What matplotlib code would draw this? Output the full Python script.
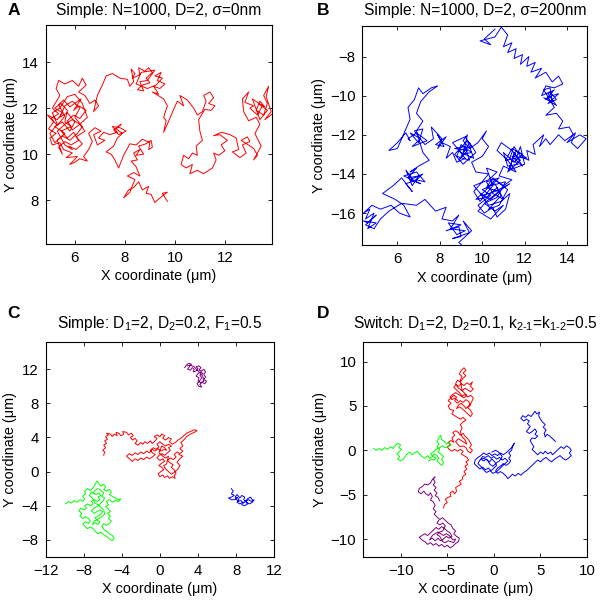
import numpy as np
import matplotlib.pyplot as plt

plt.rcParams["font.family"] = ["Liberation Sans", "DejaVu Sans"]
plt.rcParams["mathtext.default"] = "regular"

# ---- panel A: simple walk, no noise (x, y in um) ----
traj_a = [
    (9.70, 7.95), (9.50, 8.30), (9.70, 8.35), (9.35, 8.05), (9.20, 7.90), (9.05, 8.25), (8.85, 8.30),
    (8.95, 8.60), (8.70, 8.45), (8.55, 8.80), (8.35, 8.55), (8.15, 8.45), (7.95, 8.10), (8.20, 8.35),
    (8.40, 8.90), (8.10, 9.05), (8.35, 9.20), (8.60, 9.05), (8.45, 9.45), (8.25, 9.70), (8.50, 9.75),
    (8.35, 10.05), (8.60, 10.20), (8.45, 9.95), (8.75, 10.00), (8.55, 10.35), (8.85, 10.45), (9.05, 10.60),
    (9.10, 10.30), (8.95, 10.20), (9.00, 10.50), (8.70, 10.65), (8.45, 10.40), (8.20, 10.45), (7.95, 9.95),
    (7.75, 9.40), (7.60, 9.75), (7.45, 10.00), (7.25, 10.10), (7.55, 10.35), (7.70, 10.70), (7.90, 10.90),
    (7.65, 11.10), (7.85, 11.30), (7.55, 11.05), (7.75, 10.85), (8.05, 11.00), (7.80, 11.15), (7.50, 11.20),
    (7.70, 10.95), (7.40, 10.85), (7.15, 10.95), (6.95, 10.70), (7.20, 10.60), (6.90, 10.40), (6.75, 10.85),
    (7.05, 11.00), (6.80, 11.15), (6.55, 10.90), (6.70, 10.55), (6.55, 10.20), (6.35, 9.90), (6.50, 9.70),
    (6.20, 9.80), (6.00, 9.65), (5.80, 9.55), (6.10, 9.90), (5.65, 9.85), (5.90, 10.05), (5.55, 10.20),
    (5.40, 10.50), (5.10, 10.40), (5.00, 10.70), (5.25, 10.90), (4.95, 11.10), (5.15, 11.40), (4.90, 11.70),
    (5.30, 11.50), (5.50, 11.80), (5.20, 12.00), (5.45, 12.20), (5.70, 11.90), (5.60, 11.40), (5.85, 11.20),
    (5.45, 11.00), (5.70, 10.70), (5.95, 10.95), (6.15, 10.60), (5.85, 10.40), (5.60, 10.55), (5.35, 10.30),
    (5.50, 10.00), (5.30, 10.60), (5.60, 10.90), (5.20, 11.20), (5.50, 11.40), (5.80, 11.00), (6.00, 11.40),
    (5.70, 11.80), (5.40, 11.60), (5.60, 12.10), (5.90, 12.30), (6.20, 12.00), (6.00, 11.60), (6.30, 11.20),
    (6.10, 10.90), (5.80, 10.60), (5.50, 10.80), (5.20, 10.50), (5.00, 10.90), (5.30, 11.30), (5.10, 11.80),
    (5.40, 12.00), (5.70, 12.50), (6.00, 12.60), (6.30, 12.20), (6.50, 11.60), (6.20, 11.30), (5.90, 11.50),
    (5.60, 11.30), (5.30, 11.00), (5.60, 10.40), (5.90, 10.20),
    (5.75, 10.35), (6.05, 10.20), (6.30, 10.45), (6.05, 10.75), (6.40, 11.00), (6.20, 11.30),
    (5.90, 11.05), (5.70, 11.45), (5.95, 11.70), (6.20, 11.55), (6.45, 11.90), (6.15, 12.10), (5.95, 11.90),
    (6.25, 12.40), (6.05, 12.25), (5.80, 12.05), (5.55, 12.35), (5.35, 12.15), (5.60, 11.65), (5.30, 11.25),
    (5.05, 11.55), (5.35, 11.75), (5.10, 12.00), (5.40, 12.55), (5.25, 12.85), (5.35, 13.20), (5.60, 13.05),
    (5.90, 13.20), (6.15, 12.95), (6.30, 13.30), (6.45, 13.00), (6.15, 12.70), (6.40, 12.55), (6.60, 12.20),
    (6.80, 12.35), (6.95, 12.10), (6.75, 11.85), (6.90, 12.55), (7.10, 13.00), (7.25, 13.40), (7.50, 13.50),
    (7.80, 13.30), (8.10, 13.25), (8.20, 12.95), (8.35, 13.15), (8.25, 13.70), (8.40, 13.50), (8.30, 13.30),
    (8.60, 13.45), (8.55, 13.75), (8.80, 13.60), (8.95, 13.75), (9.10, 13.55), (8.85, 13.30), (9.00, 13.10),
    (8.70, 13.00), (8.50, 12.80), (8.75, 12.75), (8.60, 13.15), (8.90, 13.20), (9.20, 13.65), (8.65, 13.55),
    (8.45, 13.05), (8.90, 12.85), (9.25, 13.00), (9.50, 13.30), (9.20, 13.40), (9.45, 13.55), (9.30, 13.20),
    (9.60, 13.05), (9.40, 12.85), (9.15, 12.95), (9.35, 12.60), (9.10, 12.70), (9.55, 12.40), (9.70, 12.10),
    (9.55, 11.60), (9.65, 11.45), (9.55, 10.95), (9.70, 11.30), (9.95, 11.95), (10.10, 12.30), (10.35, 12.10),
    (10.20, 12.55), (10.50, 12.35), (10.75, 12.00), (10.90, 11.70), (11.10, 11.85), (11.25, 12.30),
    (11.15, 12.55), (11.40, 12.70), (11.55, 12.45), (11.35, 12.20), (11.60, 12.10), (11.45, 11.90),
    (11.20, 11.95), (10.95, 11.50), (11.00, 11.00), (11.10, 10.60), (10.85, 10.35), (10.90, 9.95),
    (10.70, 10.05), (10.55, 9.80), (10.35, 9.95), (10.25, 9.55), (10.45, 9.40), (10.70, 9.55), (10.60, 9.15),
    (10.90, 9.30), (11.15, 9.15), (11.50, 9.40), (11.65, 9.75), (11.55, 10.05), (11.75, 9.95), (12.00, 10.15),
    (11.85, 10.40), (12.10, 10.60), (11.80, 10.85), (11.55, 10.80), (11.85, 10.95), (12.20, 10.85),
    (12.45, 10.70), (12.55, 10.20), (12.30, 10.10), (12.60, 9.85), (12.85, 10.05), (12.70, 10.40),
    (13.00, 10.55), (12.90, 10.75), (12.65, 10.60), (13.15, 10.25), (13.30, 9.95), (13.15, 9.75),
    (13.45, 10.35), (13.20, 10.90), (13.40, 11.30), (13.25, 11.60), (12.95, 11.45), (12.75, 11.85),
    (12.70, 12.40), (12.95, 12.70), (12.80, 12.25), (13.15, 12.10), (13.00, 12.00), (13.30, 11.70),
    (13.50, 12.10), (13.10, 12.40), (13.40, 11.50), (13.70, 11.90), (13.35, 12.20), (13.60, 12.05),
    (13.40, 12.30), (13.25, 11.90), (13.55, 11.70), (13.70, 12.20), (13.55, 12.55), (13.75, 12.95),
    (13.65, 12.50), (13.85, 11.85), (13.60, 11.50), (13.90, 11.75),
]

# ---- panel B: simple walk with 200 nm localisation noise ----
traj_b = [
    (10.6, -6.6), (10.1, -7.1), (10.4, -7.4), (9.9, -7.2), (10.6, -7.0), (10.9, -6.5), (11.2, -6.9),
    (11.0, -7.5), (11.4, -7.3), (11.2, -7.8), (11.6, -7.6), (11.5, -8.1), (11.9, -7.9), (11.8, -8.4),
    (12.2, -8.0), (12.1, -8.5), (12.5, -8.3), (12.3, -8.8), (12.8, -8.6), (12.5, -9.1), (13.0, -8.8),
    (13.3, -9.3), (13.6, -9.0), (13.8, -9.4), (13.4, -9.6), (13.0, -9.5), (12.8, -10.0), (13.2, -9.8),
    (13.5, -10.2), (13.1, -10.4), (13.6, -9.9), (13.3, -10.0), (13.0, -10.2), (13.4, -9.7), (13.1, -9.9),
    (13.5, -10.5), (12.9, -10.1), (13.3, -10.3), (13.2, -9.6), (12.9, -9.7), (13.4, -10.6), (13.0, -11.0),
    (13.5, -10.9), (13.8, -11.3), (13.6, -11.7), (14.1, -11.6), (14.3, -12.0), (14.0, -12.4), (14.6, -12.0),
    (14.9, -12.2), (14.5, -12.7), (14.2, -12.4), (14.4, -11.9), (13.9, -12.3), (13.6, -12.0), (13.2, -12.5),
    (13.0, -12.2), (12.7, -12.6), (12.9, -12.0), (12.4, -12.5), (12.5, -13.0), (12.1, -12.8), (12.2, -13.3),
    (11.8, -13.1), (11.5, -12.6), (11.3, -13.2), (11.7, -13.5), (11.2, -13.6), (11.0, -12.9), (11.5, -13.4),
    (11.9, -13.0), (11.4, -12.7), (11.1, -13.3), (11.6, -13.2), (11.8, -12.6), (12.0, -13.5), (11.3, -13.8),
    (11.5, -12.9), (11.9, -13.6), (11.4, -13.1), (12.1, -13.2), (11.6, -12.8), (11.2, -13.9), (11.8, -13.3),
    (11.4, -12.8), (10.9, -12.4), (10.7, -12.8), (11.2, -13.3), (11.6, -13.9), (11.0, -13.6),
    (10.8, -14.1), (11.4, -14.3), (11.0, -14.6), (10.5, -14.2), (10.2, -14.7), (10.8, -14.9), (10.4, -15.3),
    (9.9, -15.0), (10.3, -15.6), (10.9, -15.4), (11.3, -15.0), (11.1, -15.8), (10.7, -16.2), (10.5, -15.7),
    (10.1, -16.0), (9.8, -15.6), (10.4, -15.1), (10.0, -14.8), (10.6, -14.5), (10.9, -15.1), (10.3, -15.8),
    (10.8, -15.6), (11.2, -14.8), (10.6, -14.3), (10.1, -14.9), (9.7, -15.3), (10.2, -15.2), (10.7, -14.7),
    (11.0, -15.3), (10.5, -15.0), (10.2, -14.4), (10.8, -14.2), (10.4, -14.6), (11.1, -14.4), (10.7, -15.2),
    (10.1, -15.5), (10.6, -15.9), (11.0, -15.6), (10.4, -16.3), (9.8, -15.9), (10.2, -15.4), (10.9, -14.8),
    (11.3, -14.5), (10.6, -14.9), (10.0, -15.1), (9.6, -14.6), (10.3, -14.3), (10.7, -13.9), (10.2, -13.7),
    (10.5, -14.6), (9.9, -15.4), (9.6, -14.9), (10.0, -14.4), (10.3, -14.0), (9.7, -13.9),
    (9.5, -13.4), (10.0, -13.1), (10.3, -12.6), (10.0, -12.2), (10.2, -11.8), (9.8, -12.4), (9.4, -12.7),
    (9.1, -12.3), (9.3, -12.0), (9.1, -13.0), (9.5, -12.9), (9.0, -12.5), (8.8, -13.1), (9.4, -13.3),
    (9.2, -12.6), (8.7, -12.7), (9.3, -12.8), (8.9, -13.3), (9.4, -12.4), (9.7, -12.9), (9.1, -13.5),
    (8.7, -13.0), (9.3, -12.3), (9.6, -13.2), (9.0, -12.9), (8.6, -12.4), (9.2, -12.1), (9.5, -12.6),
    (8.9, -12.8), (9.2, -13.2), (8.8, -13.4), (8.6, -12.9),
    (8.3, -13.2), (8.5, -12.6), (8.1, -12.4), (7.9, -12.0), (8.2, -12.6), (7.8, -12.5), (8.3, -12.1),
    (7.9, -12.7), (8.1, -12.2), (7.6, -11.6), (7.7, -12.2), (7.3, -12.5),
    (7.0, -12.1), (6.8, -11.8), (7.2, -11.7), (7.0, -12.4), (6.6, -11.9), (7.1, -12.2), (6.7, -12.6),
    (7.4, -12.3), (6.9, -11.9), (6.5, -12.2), (6.6, -12.3), (6.4, -11.9), (6.0, -12.4), (5.6, -12.8),
    (6.0, -12.7), (6.6, -11.2), (6.5, -10.6), (6.8, -10.2), (7.0, -9.6), (7.2, -9.9), (7.6, -9.6),
    (7.9, -9.5), (7.5, -9.8), (7.1, -10.3), (6.9, -10.9), (7.2, -11.3), (6.9, -11.8), (7.2, -12.9),
    (7.5, -13.3), (7.0, -13.6), (6.6, -13.9), (6.9, -13.7), (6.5, -14.2), (7.0, -14.1), (6.7, -14.6),
    (6.4, -13.8), (6.8, -14.4), (7.2, -14.0), (6.6, -14.3), (7.1, -14.5), (6.3, -14.1), (6.9, -13.9),
    (7.3, -14.4), (6.9, -14.3), (6.4, -14.5), (6.7, -14.9), (6.2, -14.2), (5.8, -14.6),
    (5.3, -15.0), (5.9, -15.3), (6.3, -15.6), (6.6, -16.2), (6.1, -16.0), (5.7, -15.6), (5.2, -15.8),
    (4.8, -15.6), (4.4, -16.0), (4.7, -15.8), (4.5, -16.3), (4.9, -16.0), (4.6, -16.8), (5.0, -16.5),
    (4.4, -16.4), (4.6, -16.5), (5.0, -16.1), (4.5, -16.6), (4.9, -16.8), (5.2, -16.3), (5.6, -15.9),
    (6.2, -15.5), (6.9, -15.6), (7.3, -15.3), (7.8, -15.9), (8.3, -15.7), (8.1, -16.3), (8.6, -16.4),
    (8.9, -16.1), (8.5, -16.8), (9.2, -16.9), (8.8, -17.1), (8.4, -16.5), (9.0, -16.6), (8.3, -16.9),
    (8.9, -16.7), (9.0, -17.2), (8.6, -17.3), (9.4, -17.0), (9.1, -16.4), (9.5, -16.9), (8.9, -17.5),
    (9.1, -17.7),
]

# ---- panel C: four tracks, two diffusion coefficients ----
c_purple = [
    (2.6, 12.2), (2.8, 12.5), (3.0, 12.7), (3.3, 12.6), (3.1, 12.3), (2.9, 12.0), (3.2, 11.9), (3.4, 12.2),
    (3.6, 12.0), (3.5, 11.7), (3.8, 11.8), (4.0, 12.1), (3.8, 12.3), (4.1, 12.4), (4.3, 12.2), (4.1, 11.9),
    (4.4, 11.8), (4.6, 12.0), (4.8, 11.7), (4.6, 11.4), (4.8, 11.1), (4.6, 10.8), (4.9, 10.6), (4.7, 10.3),
    (4.4, 10.5), (4.2, 10.2), (4.4, 9.9), (4.1, 10.0), (3.9, 10.3), (4.2, 10.7), (4.4, 11.0), (4.2, 11.3),
    (4.5, 11.5), (4.3, 11.7), (4.0, 11.5), (3.8, 11.2), (4.1, 11.0), (4.0, 10.6), (4.3, 10.4), (4.6, 10.6),
    (4.5, 11.2), (4.2, 11.6), (3.9, 11.9), (3.6, 12.3), (3.2, 12.5), (2.9, 12.4),
]
c_red = [
    (-5.9, 1.9), (-5.8, 2.3), (-6.0, 2.5), (-5.7, 2.8), (-5.9, 3.1), (-5.6, 3.3), (-5.8, 3.6), (-5.5, 3.8),
    (-5.7, 4.1), (-5.4, 4.3), (-5.6, 4.5), (-5.2, 4.4), (-5.0, 4.1), (-4.8, 4.4), (-4.5, 4.2), (-4.6, 4.6),
    (-4.3, 4.5), (-4.1, 4.2), (-3.8, 4.4), (-3.9, 4.7), (-3.5, 4.6), (-3.3, 4.3), (-3.0, 4.5), (-2.8, 4.2),
    (-3.1, 4.0), (-2.9, 3.7), (-2.6, 3.9), (-2.4, 3.6), (-2.6, 3.3), (-2.3, 3.1), (-2.0, 3.4), (-1.8, 3.2),
    (-1.6, 3.5), (-1.3, 3.3), (-1.0, 3.6), (-0.8, 3.3), (-0.5, 3.6), (-0.3, 3.9), (-0.6, 4.1), (-0.3, 4.3),
    (0.0, 4.1), (0.2, 4.4), (0.5, 4.2), (0.3, 3.9), (0.6, 3.7), (0.9, 4.0), (1.2, 3.8), (1.0, 3.5),
    (1.3, 3.2), (1.6, 3.4), (1.9, 3.7), (2.2, 3.9), (2.5, 4.2), (2.8, 4.5), (3.2, 4.7), (3.6, 4.9),
    (3.9, 4.8), (3.6, 4.6), (3.2, 4.4), (2.8, 4.1), (2.5, 3.7), (2.2, 3.4), (2.4, 3.0), (2.1, 2.7),
    (2.4, 2.4), (2.1, 2.1), (1.8, 2.3), (1.5, 2.0), (1.7, 1.7), (1.4, 1.4), (1.1, 1.6), (0.8, 1.3),
    (1.1, 1.0), (1.4, 0.8), (1.2, 0.5), (1.5, 0.2), (1.7, -0.2), (1.5, -0.5), (1.6, -0.8), (1.3, -0.6),
    (1.0, -0.8), (0.8, -0.5), (0.5, -0.7), (0.3, -0.4), (0.0, -0.6), (-0.2, -0.3), (0.1, 0.0), (0.4, 0.2),
    (0.2, 0.5), (-0.1, 0.7), (0.2, 1.0), (0.5, 1.2), (0.3, 1.5), (0.0, 1.3), (-0.3, 1.6), (-0.1, 1.9),
    (0.2, 2.1), (0.5, 1.9), (0.8, 2.2), (1.1, 2.5), (0.9, 2.8), (1.2, 3.0), (0.9, 3.2), (0.6, 3.0),
    (0.3, 3.2), (0.0, 3.5), (-0.3, 3.2), (-0.1, 2.9), (-0.4, 2.6), (-0.7, 2.8), (-1.0, 2.5), (-0.8, 2.2),
    (-0.5, 2.0), (-0.8, 1.7), (-1.1, 1.5), (-1.4, 1.7), (-1.7, 1.4), (-2.0, 1.6), (-2.3, 1.3), (-2.6, 1.5),
    (-2.9, 1.2), (-3.2, 1.5), (-3.5, 1.8), (-3.2, 2.1), (-2.9, 1.9), (-2.6, 2.2), (-2.3, 2.0), (-2.0, 2.3),
    (-1.7, 2.1), (-1.4, 2.4), (-1.1, 2.2), (-0.8, 2.6), (-0.5, 2.4), (-0.2, 2.7), (0.1, 2.4), (0.4, 2.6),
    (0.7, 2.5), (0.5, 2.8), (0.2, 3.0), (-0.1, 2.2), (0.3, 1.8), (0.6, 1.6), (0.9, 1.8), (0.7, 0.9),
    (0.4, 0.7), (0.6, 0.3), (0.9, 0.0), (1.2, -0.3), (1.5, -0.1), (1.9, 0.3), (2.1, 0.7), (1.8, 1.1),
    (2.1, 1.5), (2.4, 1.8), (2.0, 2.0),
]
c_green = [
    (-9.9, -3.8), (-9.6, -3.5), (-9.3, -3.7), (-9.0, -3.4), (-8.7, -3.6), (-8.4, -3.3), (-8.1, -3.5),
    (-7.9, -3.2), (-8.1, -2.9), (-7.8, -2.6), (-7.9, -2.3), (-7.6, -2.0), (-7.3, -2.2), (-7.0, -1.9),
    (-6.8, -1.5), (-6.6, -1.1), (-6.4, -1.4), (-6.2, -1.7), (-5.9, -1.5), (-5.7, -1.8), (-5.9, -2.1),
    (-5.6, -2.3), (-5.3, -2.1), (-5.1, -2.4), (-5.3, -2.7), (-5.0, -2.9), (-4.7, -3.1), (-4.4, -3.3),
    (-4.1, -3.2), (-4.3, -3.5), (-4.7, -3.4), (-5.0, -3.6), (-5.3, -3.3), (-5.6, -3.5), (-5.4, -3.9),
    (-5.7, -4.1), (-5.4, -4.4), (-5.2, -4.7), (-5.5, -4.9), (-5.2, -5.2), (-5.4, -5.5), (-5.1, -5.8),
    (-5.3, -6.1), (-5.6, -6.3), (-5.9, -6.1), (-6.1, -6.4), (-5.9, -6.8), (-5.6, -7.0), (-5.3, -7.3),
    (-5.0, -7.5), (-4.8, -7.8), (-5.0, -8.1), (-5.3, -7.9), (-5.6, -7.6), (-5.9, -7.4), (-6.2, -7.1),
    (-6.5, -7.3), (-6.8, -7.0), (-7.0, -6.7), (-7.3, -6.5), (-7.6, -6.7), (-7.9, -6.4), (-8.1, -6.1),
    (-7.8, -5.9), (-7.5, -6.1), (-7.3, -5.8), (-7.5, -5.5), (-7.8, -5.3), (-8.1, -5.5), (-8.4, -5.2),
    (-8.2, -4.9), (-8.5, -4.6), (-8.3, -4.3), (-8.0, -4.5), (-7.7, -4.3), (-7.9, -4.0), (-7.6, -3.8),
    (-7.3, -4.0), (-7.0, -3.8), (-7.2, -3.5), (-6.9, -3.3), (-6.6, -3.5), (-6.3, -3.3), (-6.5, -3.0),
    (-6.2, -2.8), (-6.4, -2.5), (-6.7, -2.7), (-7.0, -2.5), (-6.8, -2.2), (-6.5, -2.0), (-6.2, -2.2),
    (-5.9, -2.5), (-6.1, -2.9), (-5.8, -3.1), (-6.0, -3.5), (-6.3, -3.8), (-6.6, -4.1), (-6.9, -4.3),
    (-7.2, -4.6), (-6.9, -4.9), (-6.6, -4.7), (-6.3, -4.5), (-6.0, -4.7), (-6.2, -5.0), (-6.5, -5.2),
    (-6.8, -5.4), (-6.6, -5.7), (-6.3, -5.9), (-6.5, -6.2), (-6.8, -6.0), (-7.1, -6.2), (-6.9, -5.8),
    (-6.4, -5.5), (-6.1, -5.3), (-5.8, -5.0), (-5.9, -4.5), (-6.2, -4.2), (-6.5, -3.9), (-6.8, -3.7),
    (-7.1, -3.1), (-7.4, -2.8), (-7.2, -2.4), (-6.9, -2.6),
]
c_blue = [
    (7.5, -2.0), (7.7, -2.3), (7.5, -2.6), (7.8, -2.8), (7.5, -3.0), (7.2, -3.1), (7.5, -3.3), (7.9, -3.3),
    (8.1, -3.0), (8.3, -3.3), (8.1, -3.6), (8.4, -3.8), (8.7, -3.6), (8.6, -3.9), (8.9, -4.0), (9.2, -3.8),
    (9.0, -3.5), (9.3, -3.3), (9.6, -3.5), (9.9, -3.3), (9.7, -3.6), (9.4, -3.8), (9.1, -3.6), (8.8, -3.3),
    (8.9, -3.0), (8.6, -2.8), (8.4, -3.1), (8.1, -2.7), (7.9, -3.0), (8.2, -3.5), (8.5, -3.4), (8.8, -3.7),
    (9.2, -3.2), (9.5, -3.0), (9.7, -3.3),
]

# ---- panel D: four tracks switching between states ----
d_red = [
    (-5.4, -6.5), (-5.3, -6.1), (-5.0, -5.9), (-5.2, -5.5), (-4.9, -5.3), (-4.6, -5.2), (-4.7, -4.8),
    (-4.4, -4.6), (-4.2, -4.9), (-4.0, -4.6), (-4.1, -4.2), (-3.8, -4.0), (-3.5, -3.8), (-3.7, -3.5),
    (-3.4, -3.3), (-3.3, -2.9), (-3.0, -2.7), (-3.2, -2.4), (-2.9, -2.1), (-3.1, -1.8), (-2.8, -1.6),
    (-3.0, -1.3), (-2.7, -1.1), (-2.9, -0.8), (-3.2, -0.6), (-3.5, -0.4), (-3.3, -0.1), (-3.6, 0.1),
    (-3.9, -0.1), (-4.2, 0.1), (-4.5, -0.1), (-4.8, 0.1), (-5.0, 0.4), (-4.7, 0.6), (-4.9, 0.9),
    (-4.6, 1.1), (-4.3, 0.9), (-4.5, 1.4), (-4.2, 1.7), (-4.4, 2.0), (-4.1, 2.2), (-3.8, 2.0), (-3.6, 1.7),
    (-3.3, 1.9), (-3.1, 1.6), (-2.8, 1.3), (-2.6, 1.0), (-2.4, 0.6), (-2.6, 0.3), (-2.3, 0.0), (-2.5, -0.3),
    (-2.8, -0.1), (-3.0, 0.3), (-3.3, 0.5), (-3.6, 0.4), (-3.9, 0.7), (-4.1, 1.0), (-3.8, 1.3), (-3.5, 1.1),
    (-3.2, 0.9), (-2.9, 0.7), (-3.1, 1.2), (-3.4, 1.5), (-3.6, 2.1), (-3.4, 2.5), (-3.6, 2.9), (-3.3, 3.2),
    (-3.0, 3.4), (-3.3, 3.7), (-3.6, 3.5), (-3.9, 3.7), (-4.2, 3.9), (-4.5, 4.1), (-4.3, 4.5), (-4.7, 4.6),
    (-4.9, 5.0), (-4.6, 5.3), (-4.9, 5.6), (-4.6, 5.9), (-4.3, 6.2), (-4.0, 6.0), (-4.2, 5.6), (-3.9, 5.3),
    (-3.6, 5.6), (-3.3, 5.4), (-3.0, 5.7), (-2.7, 5.5), (-2.5, 5.1), (-2.8, 4.8), (-2.5, 4.5), (-2.3, 4.1),
    (-2.5, 3.8), (-2.8, 4.1), (-3.1, 4.4), (-3.4, 4.7), (-3.7, 4.9), (-4.0, 4.7), (-3.8, 5.1), (-3.5, 5.3),
    (-3.2, 5.0), (-3.0, 4.7), (-2.7, 5.0), (-2.4, 5.4), (-2.2, 5.9), (-2.5, 6.2), (-2.8, 6.0), (-3.1, 6.3),
    (-3.4, 6.1), (-3.7, 6.5), (-4.0, 6.8), (-4.3, 7.1), (-4.1, 7.4), (-3.8, 7.2), (-3.5, 7.5), (-3.2, 7.3),
    (-2.9, 7.6), (-2.6, 7.4), (-2.3, 7.7), (-2.5, 7.2), (-2.2, 6.9), (-2.5, 6.6), (-2.8, 6.8), (-3.1, 7.0),
    (-3.4, 6.7), (-3.6, 7.9), (-3.4, 8.3), (-3.7, 8.6), (-3.5, 9.0), (-3.2, 9.3), (-3.0, 9.0), (-3.3, 8.7),
    (-3.0, 8.4), (-3.3, 8.1), (-3.6, 7.7), (-3.9, 7.9), (-4.1, 7.5), (-3.8, 7.0), (-3.5, 6.8), (-3.2, 6.5),
    (-2.9, 6.2), (-3.2, 5.9), (-3.5, 6.1), (-3.8, 6.3), (-4.1, 6.5), (-4.4, 6.3), (-4.7, 6.0), (-4.5, 5.7),
    (-4.2, 5.9), (-3.9, 5.6),
]
d_green = [
    (-12.9, 0.2), (-12.6, 0.0), (-12.3, 0.2), (-12.0, 0.0), (-11.7, 0.3), (-11.4, 0.1), (-11.1, 0.4),
    (-10.8, 0.2), (-10.6, 0.5), (-10.3, 0.8), (-10.0, 0.6), (-10.2, 0.3), (-9.9, 0.1), (-10.2, -0.2),
    (-10.4, -0.4), (-10.1, -0.7), (-10.3, -1.0), (-10.0, -1.2), (-9.7, -1.0), (-9.5, -0.7), (-9.3, -0.4),
    (-9.0, -0.2), (-8.8, -0.5), (-8.5, -0.3), (-8.2, -0.1), (-8.0, -0.4), (-7.7, -0.7), (-7.4, -0.9),
    (-7.1, -0.6), (-6.9, -0.9), (-6.6, -0.7), (-6.4, -0.4), (-6.1, -0.6), (-5.9, -0.9), (-6.1, -1.2),
    (-5.8, -1.5), (-5.6, -1.7), (-5.4, -1.4), (-5.6, -1.0), (-5.4, -0.7), (-5.7, -0.4), (-6.0, -0.2),
    (-5.8, 0.1), (-6.1, 0.4), (-5.9, 0.7), (-6.1, 1.0), (-5.9, 1.4), (-5.7, 1.7), (-5.6, 1.2), (-5.3, 1.0),
    (-5.1, 0.7), (-4.8, 0.9), (-4.6, 0.6), (-4.9, 0.4), (-5.2, 0.3), (-5.5, 0.5), (-5.8, 0.3), (-6.2, 0.1),
    (-6.5, -0.2), (-6.8, -0.4), (-6.5, -0.7), (-6.2, -0.9), (-6.4, -1.1), (-6.7, -1.0), (-7.0, -1.2),
]
d_blue = [
    (6.6, 1.0), (6.3, 1.3), (6.0, 1.6), (5.7, 1.8), (5.5, 1.5), (5.4, 1.9), (5.6, 2.3), (5.3, 2.6),
    (5.5, 2.9), (5.2, 3.2), (5.0, 3.5), (4.8, 3.9), (4.9, 4.3), (4.6, 4.1), (4.4, 4.4), (4.2, 4.1),
    (4.0, 3.8), (3.7, 4.0), (3.4, 3.7), (3.1, 3.9), (2.9, 3.6), (3.2, 3.3), (3.5, 3.5), (3.8, 3.3),
    (3.6, 3.0), (3.9, 2.7), (3.7, 2.4), (3.5, 2.1), (3.8, 1.9), (4.1, 2.1), (4.4, 2.4), (4.6, 2.1),
    (4.4, 1.8), (4.7, 1.6), (4.4, 1.3), (4.1, 1.4), (3.9, 1.1), (4.1, 0.7), (4.3, 0.4), (4.1, 0.1),
    (4.4, -0.2), (4.7, -0.5), (5.0, -0.2), (5.3, -0.4), (5.5, -0.1), (5.8, -0.4), (6.1, -0.2), (6.3, -0.5),
    (6.6, -0.2), (6.9, 0.1), (7.2, 0.4), (7.5, 0.2), (7.8, 0.5), (8.1, 0.3), (8.3, 0.0), (8.1, -0.3),
    (8.3, -0.6), (8.0, -0.9), (7.7, -1.1), (7.4, -0.9), (7.1, -0.6), (6.8, -0.8), (6.5, -1.0), (6.2, -1.3),
    (5.9, -1.1), (5.6, -0.8), (5.3, -1.0), (5.0, -1.3), (4.7, -1.1), (4.4, -1.4), (4.1, -1.7), (3.8, -2.0),
    (3.5, -2.3), (3.2, -2.5), (2.9, -2.8), (2.6, -2.6), (2.3, -2.9), (2.0, -2.7), (1.7, -3.0), (1.5, -3.2),
    (1.3, -2.9), (1.0, -2.6), (0.7, -2.4), (0.4, -2.6), (0.2, -2.3), (0.4, -2.0), (0.7, -1.8), (1.0, -1.5),
    (1.3, -1.7), (1.6, -1.5), (1.8, -1.2), (1.6, -0.9), (1.8, -0.6), (1.6, -0.3), (1.9, 0.0), (2.0, 0.4),
    (2.2, 0.8), (1.9, 0.3), (1.6, 0.0), (1.3, -0.3), (1.0, -0.5), (0.7, -0.3), (0.4, -0.6), (0.1, -0.4),
    (-0.2, -0.6), (-0.5, -0.3), (-0.8, -0.5), (-1.1, -0.3), (-1.4, -0.6), (-1.7, -0.8), (-2.0, -1.1),
    (-2.1, -1.5), (-1.8, -1.8), (-1.5, -2.1), (-1.2, -1.9), (-0.9, -2.2), (-0.6, -2.0), (-0.3, -2.3),
    (0.0, -2.0), (0.3, -1.7), (0.1, -1.3), (-0.2, -1.0), (-0.5, -1.3), (-0.8, -1.0), (-1.1, -1.2),
    (-1.4, -1.0), (-1.2, -0.7), (-0.9, -0.8), (-0.6, -0.6), (-0.3, -0.9), (0.0, -0.7), (0.3, -1.0),
    (0.6, -0.8), (0.9, -1.1), (1.2, -0.9), (1.5, -1.2), (1.2, -1.5), (0.9, -1.8), (0.6, -2.1), (0.3, -2.4),
    (-0.1, -2.6), (-0.4, -2.3), (-0.8, -2.5), (-1.1, -2.2), (-1.4, -1.8), (-1.7, -1.5), (-1.5, -1.1),
    (-1.1, -0.9), (-0.7, -1.1), (-0.4, -1.6), (-0.1, -1.8), (0.3, -1.4), (0.6, -1.2), (0.9, -0.7),
    (0.5, -0.2), (0.2, 0.0), (-0.2, -0.2),
]
d_purple = [
    (-5.8, -5.7), (-6.0, -5.3), (-6.3, -5.1), (-6.1, -4.8), (-6.4, -4.5), (-6.2, -4.2), (-6.5, -3.9),
    (-6.3, -3.6), (-6.5, -3.2), (-6.3, -3.0), (-6.6, -3.3), (-6.8, -3.7), (-7.1, -3.9), (-7.4, -3.8),
    (-7.7, -4.1), (-8.0, -4.3), (-8.1, -4.7), (-7.8, -4.9), (-7.5, -4.6), (-7.3, -4.9), (-7.0, -5.1),
    (-6.8, -4.8), (-6.6, -5.2), (-6.8, -5.6), (-6.5, -5.8), (-6.3, -6.2), (-6.5, -6.6), (-6.2, -6.9),
    (-6.4, -7.2), (-6.1, -7.5), (-5.8, -7.8), (-5.5, -7.6), (-5.2, -7.9), (-4.9, -8.2), (-4.6, -8.4),
    (-4.4, -8.8), (-4.1, -9.1), (-4.3, -9.4), (-4.0, -9.7), (-3.7, -9.9), (-3.8, -10.3), (-4.1, -10.5),
    (-4.4, -10.8), (-4.7, -11.0), (-5.0, -10.7), (-5.3, -10.9), (-5.6, -10.6), (-5.9, -10.8), (-6.2, -10.5),
    (-6.5, -10.7), (-6.8, -10.4), (-7.1, -10.6), (-7.4, -10.3), (-7.7, -10.1), (-8.0, -9.8), (-7.7, -9.6),
    (-7.4, -9.4), (-7.1, -9.6), (-6.8, -9.3), (-6.5, -9.0), (-6.2, -8.7), (-5.9, -8.9), (-5.6, -8.6),
    (-5.3, -8.8), (-5.0, -9.1), (-4.7, -9.3), (-4.5, -9.7), (-4.8, -9.9), (-5.1, -9.7), (-5.4, -10.0),
    (-5.7, -10.2), (-6.0, -9.9), (-6.3, -10.2), (-6.6, -9.9), (-6.9, -10.1), (-6.6, -9.6), (-6.3, -9.4),
    (-6.0, -9.2), (-5.7, -9.4), (-5.4, -9.6), (-5.1, -9.4), (-4.8, -9.6), (-4.4, -10.1), (-4.1, -10.0),
    (-4.3, -10.4), (-4.6, -10.3), (-4.9, -10.2), (-5.2, -10.4), (-5.5, -10.3), (-5.8, -9.7), (-6.1, -9.5),
    (-5.8, -9.2), (-5.5, -9.1), (-5.2, -8.5), (-5.5, -8.2), (-5.8, -8.4), (-6.1, -8.2), (-5.9, -7.9),
]

titles = [
    "Simple: N=1000, D=2, \u03c3=0nm",
    "Simple: N=1000, D=2, \u03c3=200nm",
    "Simple: D$_1$=2, D$_2$=0.2, F$_1$=0.5",
    "Switch: D$_1$=2, D$_2$=0.1, k$_{2\u20101}$=k$_{1\u20102}$=0.5",
]
letters = ["A", "B", "C", "D"]
letter_xy = [(0.012, 0.983), (0.528, 0.983), (0.012, 0.478), (0.528, 0.478)]

RED, BLUE, GREEN, PURPLE = "#ff0000", "#0000ff", "#00ff00", "#800080"

fig = plt.figure(figsize=(6, 6), dpi=100)
boxes = [
    [0.076, 0.593, 0.378, 0.365],
    [0.604, 0.591, 0.375, 0.366],
    [0.076, 0.072, 0.381, 0.358],
    [0.6055, 0.072, 0.373, 0.358],
]
axes = [fig.add_axes(b) for b in boxes]

def draw(ax, pts, color):
    arr = np.array(pts)
    ax.plot(arr[:, 0], arr[:, 1], color=color, lw=0.7)

draw(axes[0], traj_a, RED)
draw(axes[1], traj_b, BLUE)
for pts, col in [(c_purple, PURPLE), (c_red, RED), (c_green, GREEN), (c_blue, BLUE)]:
    draw(axes[2], pts, col)
for pts, col in [(d_red, RED), (d_green, GREEN), (d_blue, BLUE), (d_purple, PURPLE)]:
    draw(axes[3], pts, col)

axes[0].set_xlim(4.83, 13.9)
axes[0].set_ylim(6.09, 15.6)
axes[0].set_xticks([6, 8, 10, 12])
axes[0].set_yticks([8, 10, 12, 14])

axes[1].set_xlim(4.35, 14.96)
axes[1].set_ylim(-17.65, -6.43)
axes[1].set_xticks([6, 8, 10, 12, 14])
axes[1].set_yticks([-16, -14, -12, -10, -8])

axes[2].set_xlim(-12, 12)
axes[2].set_ylim(-10, 15.2)
axes[2].set_xticks([-12, -8, -4, 0, 4, 8, 12])
axes[2].set_yticks([-8, -4, 0, 4, 8, 12])

axes[3].set_xlim(-14, 10)
axes[3].set_ylim(-12, 12.2)
axes[3].set_xticks([-10, -5, 0, 5, 10])
axes[3].set_yticks([-10, -5, 0, 5, 10])

for i, ax in enumerate(axes):
    ax.set_title(titles[i], fontsize=11.2, pad=7.5 if i < 2 else 10)
    ax.set_xlabel("X coordinate (\u03bcm)", fontsize=10.4, labelpad=3)
    ax.set_ylabel("Y coordinate (\u03bcm)", fontsize=10.4, labelpad=3)
    ax.tick_params(direction="in", length=3, width=0.6, labelsize=10.8,
                   top=True, right=True, pad=5)
    for s in ax.spines.values():
        s.set_linewidth(0.8)
    fig.text(letter_xy[i][0], letter_xy[i][1], letters[i], fontsize=12.5,
             fontweight="bold", va="center", ha="left")

fig.savefig("out.png", dpi=100)
